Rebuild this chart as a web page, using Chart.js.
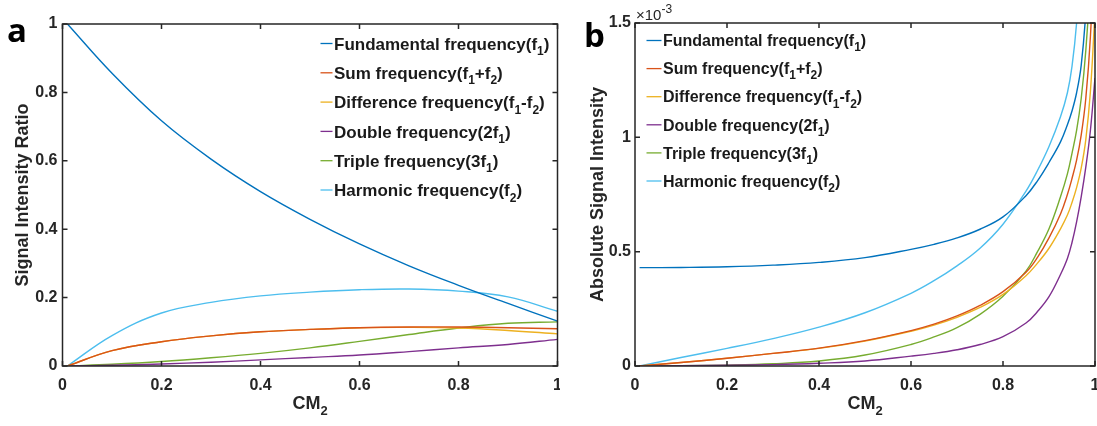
<!DOCTYPE html>
<html>
<head>
<meta charset="utf-8">
<script src="https://cdn.jsdelivr.net/npm/chart.js@4.4.1/dist/chart.umd.min.js"></script>
<style>
    body { margin: 0; background: #fff; }
    #wrap { position: relative; width: 1097px; height: 426px; overflow: hidden; }
    .panel { position: absolute; top: 0; height: 426px; }
</style>
</head>
<body>
<div id="wrap">
    <div class="panel" style="left:0;width:560px"><canvas id="chartA"></canvas></div>
    <div class="panel" style="left:560px;width:537px"><canvas id="chartB"></canvas></div>
</div>
<script>
// series names ("_x" marks a subscript character)
const seriesNames = [
    'Fundamental frequency(f_1)',
    'Sum frequency(f_1+f_2)',
    'Difference frequency(f_1-f_2)',
    'Double frequency(2f_1)',
    'Triple frequency(3f_1)',
    'Harmonic frequency(f_2)'
];
// MATLAB default line colours
const seriesColors = ['#0072BD', '#D95319', '#EDB120', '#7E2F8E', '#77AC30', '#4DBEEE'];

// panel a: CM2 vs signal intensity ratio
const xA = [0.01, 0.1, 0.2, 0.3, 0.4, 0.5, 0.6, 0.7, 0.8, 0.9, 1.0];
const fundA   = [1.0, 0.856, 0.717, 0.605, 0.51, 0.429, 0.357, 0.293, 0.236, 0.183, 0.131];
const sumA    = [0, 0.045, 0.071, 0.088, 0.1, 0.107, 0.112, 0.114, 0.114, 0.112, 0.109];
const diffA   = [0, 0.045, 0.071, 0.088, 0.1, 0.107, 0.112, 0.113, 0.111, 0.104, 0.094];
const doubleA = [0, 0.002, 0.006, 0.011, 0.018, 0.025, 0.032, 0.042, 0.053, 0.063, 0.078];
const tripleA = [0, 0.005, 0.013, 0.024, 0.037, 0.053, 0.072, 0.092, 0.111, 0.125, 0.129];
const harmA   = [0, 0.089, 0.155, 0.186, 0.205, 0.216, 0.223, 0.225, 0.219, 0.202, 0.16];

// panel b: CM2 vs absolute signal intensity (units of 1e-3)
const xB = [0.01, 0.1, 0.2, 0.3, 0.4, 0.5, 0.6, 0.65, 0.7, 0.75, 0.8, 0.85, 0.875, 0.9, 0.925, 0.94, 0.95, 0.96, 0.97, 0.98, 0.99, 1.0];
const fundB   = [0.43, 0.431, 0.434, 0.441, 0.453, 0.474, 0.51, 0.532, 0.56, 0.598, 0.652, 0.745, 0.81, 0.89, 0.98, 1.055, 1.115, 1.195, 1.315, 1.55, 2.0, 2.7];
const sumB    = [0, 0.015, 0.034, 0.055, 0.078, 0.111, 0.155, 0.183, 0.219, 0.265, 0.325, 0.41, 0.475, 0.56, 0.665, 0.75, 0.82, 0.9, 1.01, 1.17, 1.44, 1.9];
const diffB   = [0, 0.015, 0.034, 0.055, 0.077, 0.109, 0.152, 0.179, 0.213, 0.256, 0.313, 0.395, 0.45, 0.515, 0.6, 0.66, 0.715, 0.78, 0.865, 0.99, 1.2, 1.55];
const doubleB = [0, 0.001, 0.003, 0.006, 0.012, 0.022, 0.043, 0.055, 0.071, 0.094, 0.128, 0.188, 0.238, 0.303, 0.4, 0.47, 0.54, 0.63, 0.74, 0.87, 1.03, 1.26];
const tripleB = [0, 0.001, 0.004, 0.01, 0.022, 0.048, 0.094, 0.127, 0.168, 0.226, 0.305, 0.415, 0.5, 0.6, 0.74, 0.84, 0.93, 1.03, 1.17, 1.38, 1.7, 2.2];
const harmB   = [0, 0.037, 0.077, 0.12, 0.17, 0.233, 0.318, 0.373, 0.438, 0.515, 0.62, 0.765, 0.855, 0.96, 1.09, 1.195, 1.31, 1.5, 1.82, 2.4, 3.1, 3.9];

const FONT = "'Liberation Sans', Arial, sans-serif";
const AXIS_COLOR = '#262626';

// draw text where "_x" becomes a lowered, smaller character; returns end x
function drawRich(ctx, str, x, y, size) {
    const parts = str.split(/_(\w)/);
    parts.forEach((p, i) => {
        if (!p) return;
        const isSub = i % 2 === 1;
        ctx.font = `bold ${isSub ? Math.round(size * 0.72) : size}px ${FONT}`;
        ctx.fillText(p, x, isSub ? y + size * 0.32 : y);
        x += ctx.measureText(p).width;
    });
    return x;
}

function richWidth(ctx, str, size) {
    let w = 0;
    str.split(/_(\w)/).forEach((p, i) => {
        if (!p) return;
        ctx.font = `bold ${i % 2 ? Math.round(size * 0.72) : size}px ${FONT}`;
        w += ctx.measureText(p).width;
    });
    return w;
}

// MATLAB-like box with inward ticks, axis titles, legend and panel letter
const matlabFrame = {
    id: 'matlabFrame',
    afterDatasetsDraw(chart, args, opts) {
        const { ctx, chartArea: a, scales: { x, y } } = chart;
        ctx.save();
        ctx.strokeStyle = AXIS_COLOR;
        ctx.lineWidth = 1.5;
        ctx.strokeRect(a.left, a.top, a.right - a.left, a.bottom - a.top);
        const len = 5;
        ctx.beginPath();
        x.ticks.forEach(t => {
            const px = x.getPixelForValue(t.value);
            ctx.moveTo(px, a.bottom); ctx.lineTo(px, a.bottom - len);
            ctx.moveTo(px, a.top); ctx.lineTo(px, a.top + len);
        });
        y.ticks.forEach(t => {
            const py = y.getPixelForValue(t.value);
            ctx.moveTo(a.left, py); ctx.lineTo(a.left + len, py);
            ctx.moveTo(a.right, py); ctx.lineTo(a.right - len, py);
        });
        ctx.stroke();

        ctx.fillStyle = AXIS_COLOR;
        ctx.textBaseline = 'alphabetic';
        ctx.textAlign = 'left';

        // x title
        const xt = 'CM_2';
        const xw = richWidth(ctx, xt, 18);
        drawRich(ctx, xt, (a.left + a.right) / 2 - xw / 2, opts.xTitleY, 18);

        // y title (rotated)
        ctx.save();
        ctx.translate(opts.yTitleX, (a.top + a.bottom) / 2);
        ctx.rotate(-Math.PI / 2);
        ctx.font = `bold 18px ${FONT}`;
        ctx.textAlign = 'center';
        ctx.fillText(opts.yTitle, 0, 0);
        ctx.restore();

        // exponent note
        if (opts.exponent) {
            ctx.font = `15px ${FONT}`;
            ctx.fillText('\u00d710', a.left + 1, a.top - 3);
            const w = ctx.measureText('\u00d710').width;
            ctx.font = `12px ${FONT}`;
            ctx.fillText('-3', a.left + 1 + w, a.top - 10);
        }

        // legend
        const lg = opts.legend;
        chart.data.datasets.forEach((ds, i) => {
            const ly = lg.y + i * lg.dy;
            ctx.strokeStyle = ds.borderColor;
            ctx.lineWidth = 1.3;
            ctx.beginPath();
            ctx.moveTo(lg.x, ly);
            ctx.lineTo(lg.x + lg.line, ly);
            ctx.stroke();
            ctx.fillStyle = '#1a1a1a';
            drawRich(ctx, ds.label, lg.x + lg.line + 1.5, ly + lg.size * 0.36, lg.size);
        });

        // panel letter
        ctx.fillStyle = '#000';
        ctx.font = `bold 33px 'Open Sans', ${FONT}`;
        ctx.fillText(opts.letter.text, opts.letter.x, opts.letter.y);
        ctx.restore();
    }
};

function makeDatasets(xs, series) {
    return series.map((vals, i) => ({
        label: seriesNames[i],
        data: xs.map((x, j) => ({ x: x, y: vals[j] })),
        borderColor: seriesColors[i],
        borderWidth: 1.4,
        pointRadius: 0,
        tension: 0.4,
        fill: false
    }));
}

function createPanel(canvasId, datasets, cfg) {
    const ctx = document.getElementById(canvasId).getContext('2d');
    const tickFont = { family: FONT, size: 16, weight: 'bold' };
    return new Chart(ctx, {
        type: 'line',
        data: { datasets: datasets },
        options: {
            responsive: true,
            maintainAspectRatio: false,
            animation: false,
            layout: { padding: { top: cfg.top, right: cfg.right, left: 0, bottom: 0 } },
            scales: {
                x: {
                    type: 'linear',
                    min: 0, max: 1,
                    grid: { display: false, drawTicks: false },
                    border: { display: false },
                    ticks: {
                        stepSize: 0.2, padding: 10, color: AXIS_COLOR, font: tickFont,
                        maxRotation: 0, autoSkip: false,
                        callback: v => String(+v.toFixed(1))
                    },
                    afterFit: s => { s.height = 426 - 366; s.paddingLeft = 0; s.paddingRight = 0; }
                },
                y: {
                    min: 0, max: cfg.yMax,
                    grid: { display: false, drawTicks: false },
                    border: { display: false },
                    ticks: {
                        stepSize: cfg.yStep, padding: cfg.yPad, color: AXIS_COLOR, font: tickFont,
                        callback: v => String(+v.toFixed(1))
                    },
                    afterFit: s => { s.width = cfg.yWidth; s.paddingTop = 0; s.paddingBottom = 0; }
                }
            },
            plugins: {
                legend: { display: false },
                tooltip: { enabled: false },
                matlabFrame: cfg.frame
            }
        },
        plugins: [matlabFrame]
    });
}

createPanel('chartA', makeDatasets(xA, [fundA, sumA, diffA, doubleA, tripleA, harmA]), {
    top: 24, right: 2.5, yMax: 1, yStep: 0.2, yWidth: 62.5, yPad: 5,
    frame: {
        xTitleY: 409, yTitleX: 28, yTitle: 'Signal Intensity Ratio',
        legend: { x: 320.5, y: 43.5, dy: 29.3, line: 12, size: 17 },
        letter: { text: 'a', x: 7, y: 42 }
    }
});

createPanel('chartB', makeDatasets(xB, [fundB, sumB, diffB, doubleB, tripleB, harmB]), {
    top: 23, right: 2, yMax: 1.5, yStep: 0.5, yWidth: 75, yPad: 4,
    frame: {
        xTitleY: 409, yTitleX: 43, yTitle: 'Absolute Signal Intensity', exponent: true,
        legend: { x: 86.5, y: 40.5, dy: 28.1, line: 15, size: 16 },
        letter: { text: 'b', x: 24, y: 47 }
    }
});
</script>
</body>
</html>
